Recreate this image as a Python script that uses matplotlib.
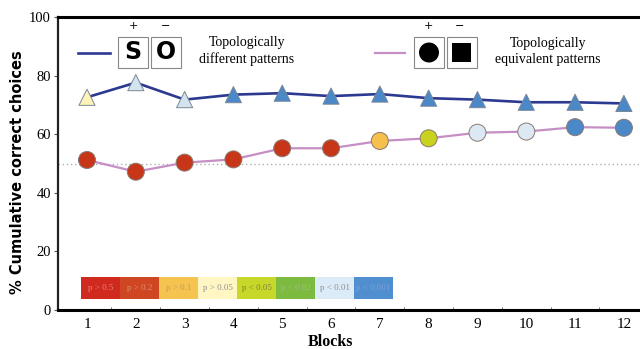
import matplotlib
matplotlib.use("Agg")
import matplotlib.pyplot as plt
from matplotlib.patches import Rectangle, Circle

blocks = list(range(1, 13))
different = [72.6, 77.6, 71.8, 73.5, 74.0, 73.0, 73.7, 72.3, 71.8, 70.9, 70.9, 70.5]
equivalent = [51.2, 47.2, 50.3, 51.4, 55.2, 55.2, 57.7, 58.6, 60.5, 60.9, 62.4, 62.2]
diff_colors = ["#fff3b8", "#d3e3ef", "#d3e3ef"] + ["#4a88c8"] * 9
equiv_colors = ["#c8361a"] * 6 + ["#f7c04c", "#c9d21c", "#dce9f4", "#dce9f4", "#4a88c8", "#4a88c8"]
chance = 50

pcats = ["p > 0.5", "p > 0.2", "p > 0.1", "p > 0.05", "p < 0.05", "p < 0.02", "p < 0.01", "p < 0.001"]
pcolors = ["#d02a1e", "#cf4622", "#f5c350", "#fff6c4", "#c8d82a", "#7cba40", "#dcebf8", "#4f8fd0"]
ptext = ["#e88080", "#e88a70", "#c0a060", "#909090", "#808040", "#a0c080", "#909090", "#7aa0d8"]

W, H = 640, 349
fig = plt.figure(figsize=(W / 100, H / 100), dpi=100)

def px(x, y):
    return (x / W, 1 - y / H)

ax = fig.add_axes([58 / W, 1 - 310 / H, 1 - 58 / W, (310 - 17) / H])
ax.set_xlim(0.406, 12.33)
ax.set_ylim(0, 100)

ax.axhline(chance, color="#b0b0b0", lw=1.0, ls=(0, (1, 2)), zorder=1)

ax.plot(blocks, different, color="#2b3990", lw=1.9, zorder=2)
ax.scatter(blocks, different, marker="^", s=135, c=diff_colors, edgecolors="#7a8796", linewidths=0.7, zorder=3)
ax.plot(blocks, equivalent, color="#c58ec4", lw=1.6, zorder=2)
ax.scatter(blocks, equivalent, marker="o", s=150, c=equiv_colors, edgecolors="#8a7a70", linewidths=0.7, zorder=3)

ax.spines["right"].set_visible(False)
ax.spines["top"].set_linewidth(2.2)
ax.spines["bottom"].set_linewidth(2.2)
ax.spines["left"].set_linewidth(1.6)
ax.spines["left"].set_color("#222222")

serif = "Liberation Serif"
ax.set_xticks(blocks)
ax.set_xticklabels([str(b) for b in blocks], fontfamily=serif, fontsize=11)
ax.set_xticks([b + 0.5 for b in blocks[:-1]], minor=True)
ax.tick_params(axis="x", which="major", length=0, pad=6)
ax.tick_params(axis="x", which="minor", length=2.5, direction="in", color="#555555")
ax.set_yticks([0, 20, 40, 60, 80, 100])
ax.set_yticklabels(["0", "20", "40", "60", "80", "100"], fontfamily=serif, fontsize=10.5)
ax.tick_params(axis="y", length=3, direction="out", pad=2, color="#555555")

fig.text(*px(330, 342), "Blocks", fontfamily=serif, fontweight="bold", fontsize=11.5,
         ha="center", va="center")
ax.set_ylabel("% Cumulative correct choices", fontfamily="DejaVu Sans", fontweight="bold", fontsize=10.5)
ax.yaxis.set_label_coords(-0.056, 0.47)

# legend
fig.add_artist(plt.Line2D([px(78, 0)[0], px(110, 0)[0]], [px(0, 53)[1]] * 2, color="#2b3990", lw=1.9))
fig.add_artist(plt.Line2D([px(375, 0)[0], px(405, 0)[0]], [px(0, 53)[1]] * 2, color="#c58ec4", lw=1.6))

def box(x0, y0, w=30, h=31):
    r = Rectangle(px(x0, y0 + h), w / W, h / H, transform=fig.transFigure,
                  facecolor="white", edgecolor="#888888", lw=0.8)
    fig.add_artist(r)

for x0 in [118, 151, 414, 447]:
    box(x0, 37)

fig.text(*px(133, 52), "S", fontsize=17, fontweight="heavy", fontfamily="DejaVu Sans",
         ha="center", va="center")
fig.text(*px(166, 52), "O", fontsize=17, fontweight="heavy", fontfamily="DejaVu Sans",
         ha="center", va="center")
fig.add_artist(Circle((429, H - 52.5), 10, transform=None, facecolor="black", edgecolor="none"))
fig.add_artist(Rectangle((452, H - 62), 19, 19, transform=None, facecolor="black", edgecolor="none"))

for x, sym in [(133, "+"), (166, "\u2212"), (428, "+"), (460, "\u2212")]:
    fig.text(*px(x, 26), sym, fontsize=8, ha="center", va="center", fontfamily="DejaVu Sans")

fig.text(*px(247, 51), "Topologically\ndifferent patterns", fontfamily=serif, fontsize=10,
         ha="center", va="center", linespacing=1.3)
fig.text(*px(548, 51), "Topologically\nequivalent patterns", fontfamily=serif, fontsize=10,
         ha="center", va="center", linespacing=1.3)

# p-value colour key
x0, y0, cw, ch = 81, 277, 39, 22
for i, (lab, col, tc) in enumerate(zip(pcats, pcolors, ptext)):
    fig.add_artist(Rectangle((x0 + i * cw, H - y0 - ch), cw, ch, transform=None,
                             facecolor=col, edgecolor="none"))
    fig.text((x0 + i * cw + cw / 2) / W, 1 - (y0 + ch / 2) / H, lab, fontfamily=serif,
             fontsize=6.5, color=tc, ha="center", va="center")

fig.savefig("out.png", dpi=100)
